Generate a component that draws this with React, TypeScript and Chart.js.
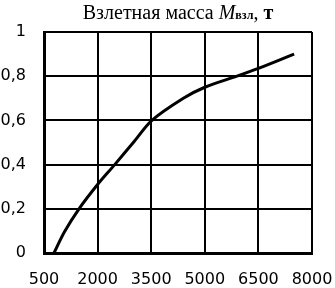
import React, { useEffect, useRef } from "react";
import { Chart, registerables } from "chart.js";

Chart.register(...registerables);

const xValues = [780, 1070, 1480, 2000, 2480, 3000, 3520, 4400, 5000, 5900, 6500, 7500];
const yValues = [0, 0.095, 0.2, 0.31, 0.4, 0.5, 0.6, 0.7, 0.75, 0.8, 0.835, 0.9];
const xTicks = [500, 2000, 3500, 5000, 6500, 8000];
const yTicks = [0, 0.2, 0.4, 0.6, 0.8, 1];

export default function App() {
  const ref = useRef<HTMLCanvasElement>(null);
  useEffect(() => {
    document.body.style.margin = "0";
    const ctx = ref.current!;
    const chart = new Chart(ctx, {
      type: "line",
      data: {
        datasets: [
          {
            data: xValues.map((x, i) => ({ x, y: yValues[i] })),
            borderColor: "#000",
            borderWidth: 3,
            pointRadius: 0,
            tension: 0.3,
            fill: false,
          },
        ],
      },
      options: {
        animation: false,
        responsive: false,
        maintainAspectRatio: false,
        layout: { padding: { top: 32, right: 0, left: 0, bottom: 0 } },
        plugins: { legend: { display: false }, tooltip: { enabled: false }, title: { display: false } },
        scales: {
          x: {
            type: "linear",
            min: 500,
            max: 8000,
            afterBuildTicks: (axis: any) => {
              axis.ticks = xTicks.map((v) => ({ value: v }));
            },
            afterFit: (axis: any) => {
              axis.height = 35;
              axis.paddingRight = 23;
              axis.paddingLeft = 0;
            },
            grid: { color: "#000", lineWidth: 2, drawTicks: false },
            border: { color: "#000", width: 3 },
            ticks: {
              color: "#000",
              font: { family: "DejaVu Sans", size: 16 },
              padding: 17,
              maxRotation: 0,
              autoSkip: false,
              callback: (v: any) => String(v),
            },
          },
          y: {
            type: "linear",
            min: 0,
            max: 1,
            afterBuildTicks: (axis: any) => {
              axis.ticks = yTicks.map((v) => ({ value: v }));
            },
            afterFit: (axis: any) => {
              axis.width = 44;
            },
            grid: { color: "#000", lineWidth: 2, drawTicks: false },
            border: { color: "#000", width: 3 },
            ticks: {
              color: "#000",
              font: { family: "DejaVu Sans", size: 16 },
              padding: 18,
              autoSkip: false,
              callback: (v: any) => String(Number(v).toFixed(1)).replace(/\.0$/, "").replace(".", ","),
            },
          },
        },
      },
    });
    return () => chart.destroy();
  }, []);
  return (
    <div style={{ position: "fixed", left: 0, top: 0, width: 335, height: 288, background: "#fff" }}>
      <canvas ref={ref} width={335} height={288} style={{ position: "absolute", left: 0, top: 0 }} />
      <div
        style={{
          position: "absolute",
          left: 44,
          width: 268,
          top: 0,
          textAlign: "center",
          fontFamily: "'Liberation Serif', 'Times New Roman', serif",
          fontSize: 20,
          lineHeight: "24px",
          color: "#000",
          whiteSpace: "nowrap",
        }}
      >
        Взлетная масса <i>M</i>
        <span style={{ fontSize: 12, fontWeight: "bold" }}>взл</span>, <b>т</b>
      </div>
    </div>
  );
}
